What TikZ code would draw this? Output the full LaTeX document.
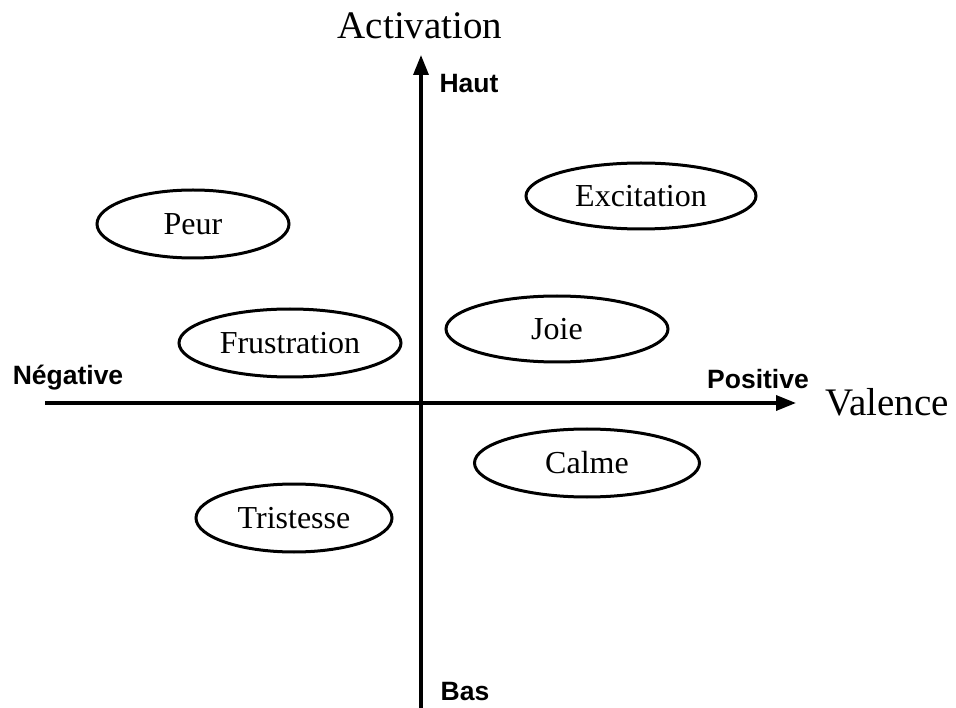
\documentclass[tikz,border=0pt]{standalone}
\usepackage{fontspec}
\setmainfont{Liberation Serif}
\newfontfamily\labelfont{Liberation Sans}
\usetikzlibrary{shapes.geometric,arrows.meta}
\begin{document}
\begin{tikzpicture}[x=1pt,y=-1pt,
  emotion/.style={ellipse,draw,line width=3pt,inner sep=0pt,
    font=\fontsize{32}{32}\selectfont},
  axislabel/.style={font=\fontsize{39}{39}\selectfont},
  pole/.style={font=\labelfont\bfseries\fontsize{26.5}{26.5}\selectfont},
  axis/.style={line width=3.4pt,-{Triangle[length=20pt,width=15pt]}}]
\useasboundingbox (0,0) rectangle (956,708);
% axes
\coordinate (vbot) at (421,708);
\coordinate (vtop) at (421,55);
\coordinate (hleft) at (45,403);
\coordinate (hright) at (796,403);
\draw[axis] (vbot) -- (vtop);
\draw[axis] (hleft) -- (hright);
% axis titles and poles
\node[axislabel] (act) at (420,26) {Activation};
\node[axislabel] (val) at (887,402) {Valence};
\node[pole] (haut) at (469,84) {Haut};
\node[pole] (bas) at (465,692) {Bas};
\node[pole] (neg) at (68,378) {Négative};
\node[pole] (pos) at (758,379) {Positive};
% emotions
\node[emotion,minimum width=192pt,minimum height=68pt] (peur) at (193,224) {Peur};
\node[emotion,minimum width=230pt,minimum height=66pt] (exc) at (641,196) {Excitation};
\node[emotion,minimum width=222pt,minimum height=68pt] (frus) at (290,343) {Frustration};
\node[emotion,minimum width=222pt,minimum height=66pt] (joie) at (557,329) {Joie};
\node[emotion,minimum width=225pt,minimum height=68pt] (calme) at (587,463) {Calme};
\node[emotion,minimum width=196pt,minimum height=68pt] (trist) at (294,518) {Tristesse};
\end{tikzpicture}
\end{document}
